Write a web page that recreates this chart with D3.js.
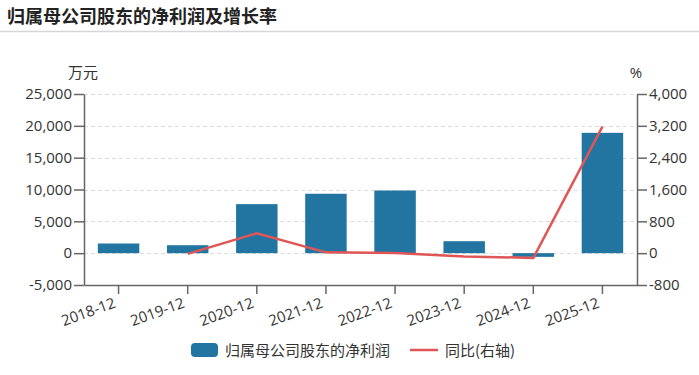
<!DOCTYPE html>
<html>
<head>
<meta charset="utf-8">
<script src="https://cdn.jsdelivr.net/npm/d3@7"></script>
<style>
  body { margin: 0; background: #fff; }
  svg { font-family: "Open Sans", "Noto Sans CJK SC", sans-serif; }
</style>
</head>
<body>
<svg id="chart" width="699" height="375"></svg>
<script>
const years   = ["2018-12", "2019-12", "2020-12", "2021-12", "2022-12", "2023-12", "2024-12", "2025-12"];
const profit  = [1520, 1250, 7700, 9330, 9840, 1880, -580, 18900];
const growth  = [null, -18, 500, 21, 5, -81, -120, 3180];
const leftTicks  = [-5000, 0, 5000, 10000, 15000, 20000, 25000];
const rightTicks = [-800, 0, 800, 1600, 2400, 3200, 4000];

const margin = {top: 94, right: 62, bottom: 90, left: 84};
const width  = 699 - margin.left - margin.right;
const height = 375 - margin.top - margin.bottom;
const cjk = '"Noto Sans CJK SC", sans-serif';
const fmt = d => d3.format(",")(d).replace("\u2212", "-");

const svg = d3.select("#chart");

// title
svg.append("text")
  .attr("x", 7).attr("y", 23)
  .style("font-family", cjk)
  .style("font-size", "18px").style("font-weight", "bold")
  .attr("fill", "#222")
  .text("归属母公司股东的净利润及增长率");
svg.append("line")
  .attr("x1", 0).attr("x2", 699).attr("y1", 31.5).attr("y2", 31.5)
  .attr("stroke", "#d6d6d6").attr("stroke-width", 1.5);

const g = svg.append("g")
  .attr("transform", "translate(" + margin.left + "," + margin.top + ")");

const x = d3.scaleBand().domain(years).range([0, width]).paddingInner(0.4).paddingOuter(0.2);
const yL = d3.scaleLinear().domain([-5000, 25000]).range([height, 0]);
const yR = d3.scaleLinear().domain([-800, 4000]).range([height, 0]);

// grid
g.append("g").selectAll("line")
  .data(leftTicks.slice(1))
  .join("line")
    .attr("x1", 0).attr("x2", width)
    .attr("y1", d => Math.round(yL(d)) + 0.5).attr("y2", d => Math.round(yL(d)) + 0.5)
    .attr("stroke", "#dcdcdc").attr("stroke-dasharray", "4,3");

// bars
g.append("g").selectAll("rect")
  .data(profit)
  .join("rect")
    .attr("x", (d, i) => x(years[i]))
    .attr("width", x.bandwidth())
    .attr("y", d => yL(Math.max(0, d)))
    .attr("height", d => Math.abs(yL(d) - yL(0)))
    .attr("fill", "#2275a0");

// line
const line = d3.line()
  .defined(d => d != null)
  .x((d, i) => x(years[i]) + x.bandwidth() / 2)
  .y(d => yR(d));
g.append("path")
  .datum(growth)
  .attr("fill", "none")
  .attr("stroke", "#e05656")
  .attr("stroke-width", 2.5)
  .attr("d", line);

// axes
function styleAxis(sel) {
  sel.attr("font-family", null).attr("font-size", null);
  sel.selectAll("path, line").attr("stroke", "#666").attr("stroke-width", 1.5);
  sel.selectAll("text").attr("fill", "#333")
    .style("font-family", '"Open Sans", sans-serif').style("font-size", "15px");
}

g.append("g")
  .call(d3.axisLeft(yL).tickValues(leftTicks).tickSize(10).tickPadding(2).tickSizeOuter(0).tickFormat(fmt))
  .call(styleAxis);

g.append("g")
  .attr("transform", "translate(" + width + ",0)")
  .call(d3.axisRight(yR).tickValues(rightTicks).tickSize(10).tickPadding(2).tickSizeOuter(0).tickFormat(fmt))
  .call(styleAxis);

const xa = g.append("g")
  .attr("transform", "translate(0," + height + ")")
  .call(d3.axisBottom(x).tickSize(9).tickSizeOuter(0))
  .call(styleAxis);
xa.selectAll("text")
  .attr("text-anchor", "end")
  .attr("dy", null).attr("y", 0)
  .attr("transform", "translate(-2,22) rotate(-20)");

// unit labels
svg.append("text").attr("x", 83).attr("y", 78).attr("text-anchor", "middle")
  .style("font-family", cjk).style("font-size", "15px").attr("fill", "#333").text("万元");
svg.append("text").attr("x", 636).attr("y", 78).attr("text-anchor", "middle")
  .style("font-size", "15px").attr("fill", "#333").text("%");

// legend
const lg = svg.append("g").attr("transform", "translate(0,350)");
lg.append("rect").attr("x", 191).attr("y", -7).attr("width", 27).attr("height", 14)
  .attr("rx", 4).attr("fill", "#2275a0");
lg.append("text").attr("x", 225).attr("y", 5.5)
  .style("font-family", cjk).style("font-size", "15px").attr("fill", "#333")
  .text("归属母公司股东的净利润");
lg.append("line").attr("x1", 410).attr("x2", 438).attr("y1", 0).attr("y2", 0)
  .attr("stroke", "#e05656").attr("stroke-width", 2.5);
lg.append("text").attr("x", 445).attr("y", 5.5)
  .style("font-family", cjk).style("font-size", "15px").attr("fill", "#333")
  .text("同比(右轴)");
</script>
</body>
</html>
